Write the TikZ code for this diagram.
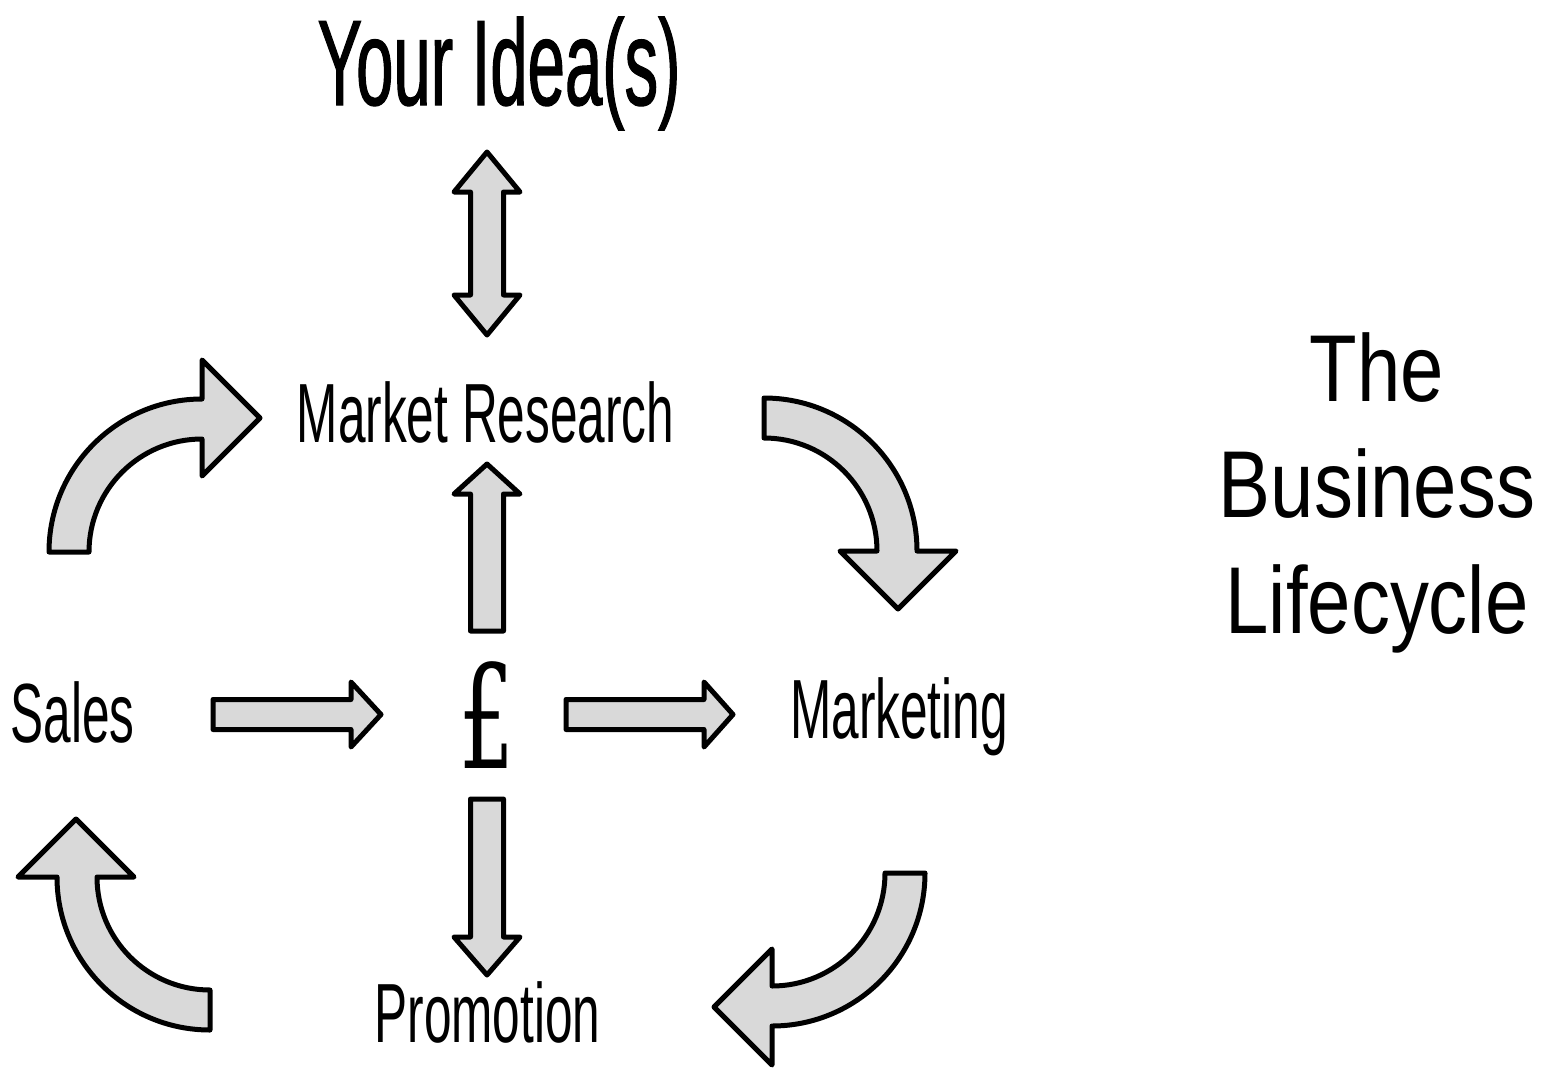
\documentclass[tikz,border=0pt]{standalone}
\usepackage{fontspec}
\setmainfont{Liberation Sans}
\newfontfamily\condfont[FakeStretch=0.59]{Liberation Sans}
\newfontfamily\headfont[FakeStretch=0.55,FakeBold=0.9]{Liberation Sans}
\newfontfamily\sidefont[FakeStretch=0.82]{Liberation Sans}
\newfontfamily\moneyfont[FakeStretch=0.6]{DejaVu Serif}
\definecolor{arrowgray}{HTML}{D9D9D9}

\begin{document}
\begin{tikzpicture}
[x=0.5pt,y=0.5pt,
fatarrow/.style={draw=black,line width=2.5pt,fill=arrowgray,line join=round},
word/.style={inner sep=0pt,anchor=base,font=\condfont\fontsize{42}{50}\selectfont},]

\useasboundingbox (0,0) rectangle (1546,-1070);

%Bent arrow sizes
\def\R{153}
\def\r{113}
\def\m{134}
\def\hw{58}
\def\hl{58}

%Labeling the stages
\node (idea) at (499,-105) [word,font=\headfont\fontsize{61}{70}\selectfont] {Your Idea(s)};
\node (research) at (485.5,-442) [word] {Market Research};
\node (sales) at (72.5,-742) [word] {Sales};
\node (pound) at (487,-768) [word,font=\moneyfont\fontsize{72}{80}\selectfont] {£};
\node (marketing) at (899,-738) [word] {Marketing};
\node (promotion) at (487.5,-1042) [word] {Promotion};
\node (lifecycle) at (1377,-332) [inner sep=0pt,anchor=north,align=center,font=\sidefont\fontsize{47.5}{58}\selectfont] {The\\Business\\Lifecycle};

%Straight arrows round the pound
\draw[fatarrow] (487,-152) -- (520,-192) -- (503.5,-192) -- (503.5,-295) -- (520,-295) -- (487,-335)
  -- (454,-295) -- (470.5,-295) -- (470.5,-192) -- (454,-192) -- cycle;
\draw[fatarrow] (487,-464) -- (520,-494) -- (503.5,-494) -- (503.5,-631) -- (470.5,-631) -- (470.5,-494) -- (454,-494) -- cycle;
\draw[fatarrow] (470.5,-799) -- (503.5,-799) -- (503.5,-937) -- (520,-937) -- (487,-975) -- (454,-937) -- (470.5,-937) -- cycle;
\draw[fatarrow] (213,-699.5) -- (351,-699.5) -- (351,-682) -- (381,-714.5) -- (351,-747) -- (351,-729.5) -- (213,-729.5) -- cycle;
\draw[fatarrow] (566,-699.5) -- (704,-699.5) -- (704,-682) -- (733,-714.5) -- (704,-747) -- (704,-729.5) -- (566,-729.5) -- cycle;

%Bent arrows of the cycle
\draw[fatarrow,shift={(202,-552)}] (180:\r) -- (180:\R) arc[start angle=180,end angle=90,radius=\R]
  -- (0,\m+\hw) -- (\hl,\m) -- (0,\m-\hw) -- (0,\r) arc[start angle=90,end angle=180,radius=\r] -- cycle;
\draw[fatarrow,shift={(764,-551)},rotate=-90] (180:\r) -- (180:\R) arc[start angle=180,end angle=90,radius=\R]
  -- (0,\m+\hw) -- (\hl,\m) -- (0,\m-\hw) -- (0,\r) arc[start angle=90,end angle=180,radius=\r] -- cycle;
\draw[fatarrow,shift={(772,-873)},rotate=-180] (180:\r) -- (180:\R) arc[start angle=180,end angle=90,radius=\R]
  -- (0,\m+\hw) -- (\hl,\m) -- (0,\m-\hw) -- (0,\r) arc[start angle=90,end angle=180,radius=\r] -- cycle;
\draw[fatarrow,shift={(210,-877)},rotate=90] (180:\r) -- (180:\R) arc[start angle=180,end angle=90,radius=\R]
  -- (0,\m+\hw) -- (\hl,\m) -- (0,\m-\hw) -- (0,\r) arc[start angle=90,end angle=180,radius=\r] -- cycle;
\end{tikzpicture}
\end{document}
